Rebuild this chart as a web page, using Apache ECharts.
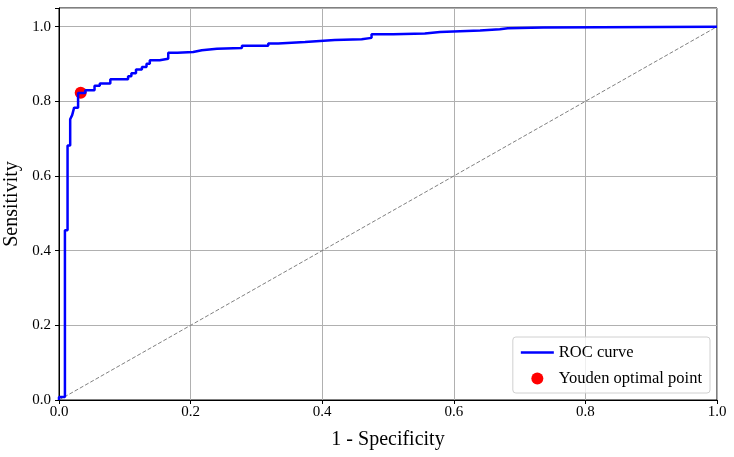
<!DOCTYPE html>
<html>
<head>
<meta charset="utf-8">
<script src="https://cdn.jsdelivr.net/npm/echarts@6/dist/echarts.min.js"></script>
<style>
  html, body { margin: 0; padding: 0; background: #fff; }
  #rocchart { width: 734px; height: 457px; }
</style>
</head>
<body>
<div id="rocchart"></div>
<script>
// ROC curve corners (fpr, tpr)
var fpr = [0, 0, 0.009, 0.013, 0.017, 0.02, 0.023, 0.029, 0.04, 0.054, 0.062, 0.078,
    0.105, 0.11, 0.117, 0.126, 0.133, 0.138, 0.153, 0.166, 0.18, 0.204, 0.217, 0.24,
    0.278, 0.318, 0.333, 0.374, 0.419, 0.46, 0.475, 0.508, 0.556, 0.579, 0.64, 0.67,
    0.682, 0.736, 1.0];
var tpr = [0, 0.008, 0.455, 0.682, 0.752, 0.763, 0.783, 0.822, 0.83, 0.842, 0.848, 0.859,
    0.867, 0.875, 0.885, 0.892, 0.901, 0.91, 0.914, 0.93, 0.932, 0.937, 0.941, 0.943,
    0.949, 0.955, 0.959, 0.964, 0.966, 0.97, 0.98, 0.982, 0.986, 0.99, 0.993, 0.996,
    0.998, 1.0, 1.0];
var youdenPoint = [0.033, 0.823];
var diagonal = [[0, 0], [1, 1]];
var tickLabels = ['0.0', '0.2', '0.4', '0.6', '0.8', '1.0'];

var serif = '"Liberation Serif", "DejaVu Serif", serif';

var myChart = echarts.init(document.getElementById('rocchart'));

var rocData = [];
for (var i = 0; i < fpr.length; i++) {
    rocData.push([fpr[i], tpr[i]]);
}

var option = {
    animation: false,
    backgroundColor: '#fff',
    grid: {
        left: 59, right: 17, top: 8, bottom: 57,
        outerBoundsMode: 'none', containLabel: false,
        show: true, borderColor: '#000', borderWidth: 1
    },
    xAxis: {
        type: 'value', min: 0, max: 1, interval: 0.2,
        name: '1 - Specificity', nameLocation: 'middle', nameGap: 30,
        nameTextStyle: { fontFamily: serif, fontSize: 20, color: '#000' },
        axisLine: { show: true, lineStyle: { color: '#000', width: 1 } },
        axisTick: { show: true, length: 4, lineStyle: { color: '#000' } },
        axisLabel: {
            fontFamily: serif, fontSize: 15, color: '#000', margin: 5,
            formatter: function (v) { return tickLabels[Math.round(v / 0.2)]; }
        },
        splitLine: { show: true, lineStyle: { color: '#b0b0b0', width: 1 } }
    },
    yAxis: {
        type: 'value', min: 0, max: 1.05, interval: 0.2,
        name: 'Sensitivity', nameLocation: 'middle', nameGap: 36,
        nameTextStyle: { fontFamily: serif, fontSize: 20, color: '#000' },
        axisLine: { show: true, lineStyle: { color: '#000', width: 1 } },
        axisTick: { show: true, length: 4, lineStyle: { color: '#000' } },
        axisLabel: {
            fontFamily: serif, fontSize: 15, color: '#000', margin: 8,
            formatter: function (v) {
                var k = Math.round(v / 0.2);
                return Math.abs(v - k * 0.2) < 1e-6 ? tickLabels[k] : '';
            }
        },
        splitLine: { show: true, lineStyle: { color: '#b0b0b0', width: 1 } }
    },
    legend: {
        orient: 'vertical', right: 24, bottom: 64,
        backgroundColor: 'rgba(255,255,255,0.8)',
        borderColor: '#d0d0d0', borderWidth: 1, borderRadius: 3,
        padding: [7, 8, 6, 8], itemGap: 9,
        itemWidth: 33, itemHeight: 12,
        textStyle: { fontFamily: serif, fontSize: 16.5, color: '#000' },
        data: [
            { name: 'ROC curve', icon: 'path://M0,0 L33,0 L33,2.5 L0,2.5 Z', itemStyle: { color: '#0000ff' } },
            { name: 'Youden optimal point', icon: 'circle', itemStyle: { color: '#ff0000' } }
        ]
    },
    series: [
        {
            name: 'diagonal', type: 'line', data: diagonal,
            symbol: 'none', silent: true,
            lineStyle: { color: '#808080', width: 1, type: [4, 2] }, z: 1
        },
        {
            name: 'Youden optimal point', type: 'scatter', data: [youdenPoint],
            symbol: 'circle', symbolSize: 12,
            itemStyle: { color: '#ff0000', opacity: 1 }, z: 2
        },
        {
            name: 'ROC curve', type: 'line', data: rocData, step: 'end',
            symbol: 'none', showSymbol: false,
            lineStyle: { color: '#0000ff', width: 2.5 },
            itemStyle: { color: '#0000ff' }, z: 3
        }
    ]
};
myChart.setOption(option);
</script>
</body>
</html>
